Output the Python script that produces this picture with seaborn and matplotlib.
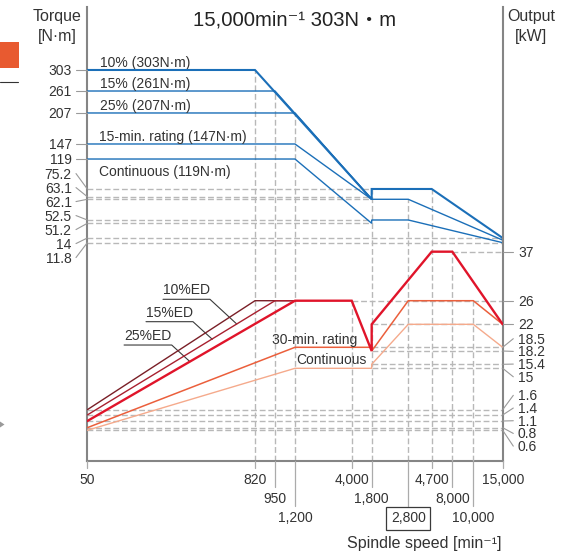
import numpy as np
import matplotlib
matplotlib.use("Agg")
import matplotlib.pyplot as plt
from matplotlib.lines import Line2D
from matplotlib.patches import Rectangle, Polygon
from matplotlib.transforms import IdentityTransform
import seaborn as sns

# ---------------- data ----------------
# speed ticks in the order they appear along the (schematic) speed axis
speed_ticks = [50, 820, 950, 1200, 4000, 1800, 2800, 4700, 8000, 10000, 15000]
boxed_speed = 2800
torque_ticks = [303, 261, 207, 147, 119, 75.2, 63.1, 62.1, 52.5, 51.2, 14, 11.8]
output_ticks = [37, 26, 22, 18.5, 18.2, 15.4, 15, 1.6, 1.4, 1.1, 0.8, 0.6]

# torque curves [N·m]
trq10_speed = [50, 820, 1800, 1800, 4700, 15000]
trq10_value = [303, 303, 62.1, 75.2, 75.2, 14]
trq15_speed = [50, 950, 1800]
trq15_value = [261, 261, 62.1]
trq25_speed = [50, 1200, 1800]
trq25_value = [207, 207, 62.1]
trq15min_speed = [50, 1200, 1800, 2800, 15000]
trq15min_value = [147, 147, 62.1, 62.1, 13]
trqcont_speed = [50, 1200, 1800, 1800, 2800, 15000]
trqcont_value = [119, 119, 51.2, 52.5, 52.5, 11.8]

# output curves [kW]
out10_speed = [50, 820, 1200]
out10_value = [1.6, 26, 26]
out15_speed = [50, 950, 1200]
out15_value = [1.4, 26, 26]
out25_speed = [50, 1200, 4000, 1800, 1800, 4700, 8000, 15000]
out25_value = [1.1, 26, 26, 18.2, 22, 37, 37, 22]
out30_speed = [50, 1200, 1800, 1800, 2800, 10000, 15000]
out30_value = [0.8, 18.5, 18.5, 18.2, 26, 26, 22]
outcont_speed = [50, 1200, 1800, 1800, 2800, 10000, 15000]
outcont_value = [0.6, 15, 15, 15.4, 22, 22, 18.5]

# guide lines
trq_guide_level = [75.2, 63.1, 62.1, 52.5, 51.2, 14, 11.8]
trq_guide_end = [1800, 1800, 1800, 1800, 1800, 15000, 15000]
out_guide_level = [37, 26, 22, 18.5, 18.2, 15.4, 15, 1.6, 1.4, 1.1, 0.8, 0.6]
out_guide_start = [8000, 4000, 1800, 1800, 1800, 1800, 1800, 50, 50, 50, 50, 50]
trq_vguide_speed = [820, 950, 1200, 1800, 2800, 4700]
trq_vguide_top = [303, 261, 207, 75.2, 62.1, 75.2]
out_vguide_speed = [4000, 8000, 10000]
out_vguide_top = [26, 37, 26]

# ---------------- style ----------------
sns.set_theme(style="white")
plt.rcParams["font.family"] = ["Liberation Sans", "Noto Sans CJK JP", "DejaVu Sans"]
TXT = "#333333"
BLUE = "#1b6fb8"
C10, C15, C25 = "#7a1f27", "#a8202f", "#e0142a"
C30, CCONT = "#eb5f3c", "#f5aa8c"
GUIDE = "#b8b8b8"
SPINE = "#858585"
DASH = (0, (4.2, 2.0))

W, H = 572, 552
L, R, T, B = 87.3, 502.7, 6.7, 460.7
fig = plt.figure(figsize=(W / 100, H / 100), dpi=100)
ax = fig.add_axes([L / W, 1 - B / H, (R - L) / W, (B - T) / H])

# schematic axes: each tick value sits on its own slot
speed_slot = [0, .4037, .4518, .5, .6365, .6846, .7727, .8291, .8787, .9292, 1.0]
_sp = np.array(speed_ticks, float)
_order = np.argsort(_sp)
_sp_sorted, _slot_by_speed = _sp[_order], np.array(speed_slot)[_order]
_slot_order = np.argsort(speed_slot)


def speed_fwd(v):
    return np.interp(v, _sp_sorted, _slot_by_speed)


def speed_inv(f):
    return np.interp(f, np.array(speed_slot)[_slot_order], _sp[_slot_order])


def knot_scale(values, fracs):
    v, f = np.array(values, float), np.array(fracs, float)
    return (lambda x: np.interp(x, v, f)), (lambda y: np.interp(y, f, v))


trq_fwd, trq_inv = knot_scale(
    [0, 11.8, 14, 51.2, 52.5, 62.1, 63.1, 75.2, 119, 147, 207, 261, 303, 430],
    [0, .4802, .4905, .5229, .5302, .5758, .5815, .5985, .6645, .6976, .7659, .8143, .8606, 1])
out_fwd, out_inv = knot_scale(
    [0, 0.6, 0.8, 1.1, 1.4, 1.6, 15, 15.4, 18.2, 18.5, 22, 26, 37, 100],
    [0, .0670, .0727, .0874, .1007, .1123, .2035, .2123, .2416, .2498, .3004, .3524, .4604, 1])

ax.set_xscale("function", functions=(speed_fwd, speed_inv))
ax.set_yscale("function", functions=(trq_fwd, trq_inv))
ax2 = ax.twinx()
ax2.set_yscale("function", functions=(out_fwd, out_inv))


def set_limits():
    ax.set_xlim(50, 15000)
    ax.set_ylim(0, 430)
    ax2.set_ylim(0, 100)


set_limits()

# guides
for lv, end in zip(trq_guide_level, trq_guide_end):
    ax.hlines(lv, 50, end, colors=GUIDE, linestyles=DASH, lw=1.0, zorder=1)
for lv, st in zip(out_guide_level, out_guide_start):
    ax2.hlines(lv, st, 15000, colors=GUIDE, linestyles=DASH, lw=1.0, zorder=1)
for sx, top in zip(trq_vguide_speed, trq_vguide_top):
    ax.vlines(sx, 0, top, colors=GUIDE, linestyles=DASH, lw=1.0, zorder=1)
for sx, top in zip(out_vguide_speed, out_vguide_top):
    ax2.vlines(sx, 0, top, colors=GUIDE, linestyles=DASH, lw=1.0, zorder=1)


def curve(axis, xs, ys, color, lw, z=3):
    sns.lineplot(x=xs, y=ys, ax=axis, sort=False, estimator=None, errorbar=None,
                 color=color, linewidth=lw, zorder=z, solid_joinstyle="miter")


# torque
curve(ax, trqcont_speed, trqcont_value, BLUE, 1.0)
curve(ax, trq15min_speed, trq15min_value, BLUE, 1.0)
curve(ax, trq25_speed, trq25_value, BLUE, 1.0)
curve(ax, trq15_speed, trq15_value, BLUE, 1.0)
curve(ax, trq10_speed, trq10_value, BLUE, 1.5, 4)
# output
curve(ax2, outcont_speed, outcont_value, CCONT, 1.0)
curve(ax2, out30_speed, out30_value, C30, 1.1)
curve(ax2, out10_speed, out10_value, C10, 1.0)
curve(ax2, out15_speed, out15_value, C15, 1.0)
curve(ax2, out25_speed, out25_value, C25, 1.7, 4)

set_limits()
for a in (ax, ax2):
    a.set_xlabel("")
    a.set_ylabel("")
    a.set_xticks([])
    a.set_yticks([])
    a.grid(False)
    for s in a.spines.values():
        s.set_visible(False)
ax.spines["left"].set_visible(True)
ax.spines["bottom"].set_visible(True)
ax2.spines["right"].set_visible(True)
for s in (ax.spines["left"], ax.spines["bottom"], ax2.spines["right"]):
    s.set_color(SPINE)
    s.set_linewidth(1.5)

# ---------------- staggered tick labels with leaders ----------------
ID = IdentityTransform()
FS = 10


def spread(levels, gap):
    clusters = [[i] for i in range(len(levels))]

    def place(cl):
        c = np.mean([levels[i] for i in cl])
        n = len(cl)
        return [c + gap * ((n - 1) / 2 - k) for k in range(n)]

    merged = True
    while merged:
        merged = False
        for j in range(len(clusters) - 1):
            if place(clusters[j])[-1] - place(clusters[j + 1])[0] < gap - 1e-6:
                clusters[j] = clusters[j] + clusters.pop(j + 1)
                merged = True
                break
    out = []
    for cl in clusters:
        out += place(cl)
    return out


def label_text(v):
    return f"{v:g}"


x_left = ax.transAxes.transform((0, 0))[0]
x_right = ax.transAxes.transform((1, 0))[0]
y_bottom = ax.transAxes.transform((0, 0))[1]

lv_left = [ax.transData.transform((50, v))[1] for v in torque_ticks]
for v, lv, ly in zip(torque_ticks, lv_left, spread(lv_left, 14.0)):
    fig.add_artist(Line2D([x_left, x_left - 11.3], [lv, ly], color="#9a9a9a", lw=0.8, transform=ID))
    fig.text(x_left - 15.5, ly - 5.0, label_text(v), ha="right", va="baseline",
             fontsize=FS, color=TXT, transform=ID)

lv_right = [ax2.transData.transform((50, v))[1] for v in output_ticks]
for v, lv, ly in zip(output_ticks, lv_right, spread(lv_right, 12.7)):
    fig.add_artist(Line2D([x_right, x_right + 10.6], [lv, ly], color="#9a9a9a", lw=0.8, transform=ID))
    fig.text(x_right + 15.3, ly - 5.0, label_text(v), ha="left", va="baseline",
             fontsize=FS, color=TXT, transform=ID)

# speed labels in three staggered rows
row_gap = 19.0
for i, sp in enumerate(speed_ticks):
    row = max(i - 1, 0) % 3
    xd = ax.transData.transform((sp, 0))[0]
    yc = y_bottom - 18.6 - row * row_gap
    fig.add_artist(Line2D([xd, xd], [y_bottom, yc + 11.0], color="#ababab", lw=0.9, transform=ID))
    kw = {}
    if sp == boxed_speed:
        kw["bbox"] = dict(boxstyle="square,pad=0.32", fc="white", ec="#3a3a3a", lw=0.9)
    fig.text(xd, yc - 5.0, f"{sp:,}", ha="center", va="baseline", fontsize=FS,
             color=TXT, transform=ID, **kw)


def ptext(x, y_top, s, **kw):
    kw.setdefault("color", TXT)
    return fig.text(x, H - y_top, s, transform=ID, **kw)


# axis titles
ptext(57.5, 21, "Torque", ha="center", va="baseline", fontsize=11.5)
ptext(57.5, 41, "[N·m]", ha="center", va="baseline", fontsize=11.5)
ptext(531, 21, "Output", ha="center", va="baseline", fontsize=11.5)
ptext(531, 41, "[kW]", ha="center", va="baseline", fontsize=11.5)
ptext(295, 25, "15,000min⁻¹ 303N・m", ha="center", va="baseline", fontsize=14.6, color="#222222")
ptext(424, 548, "Spindle speed [min⁻¹]", ha="center", va="baseline", fontsize=11.5)

# torque curve names
FS_IN = 10
ax.annotate("10% (303N·m)", xy=(50, 303), xytext=(9, 2.4), textcoords="offset points",
            ha="left", va="baseline", fontsize=FS_IN, color=TXT)
ax.annotate("15% (261N·m)", xy=(50, 261), xytext=(9, 2.0), textcoords="offset points",
            ha="left", va="baseline", fontsize=FS_IN, color=TXT)
ax.annotate("25% (207N·m)", xy=(50, 207), xytext=(9, 2.2), textcoords="offset points",
            ha="left", va="baseline", fontsize=FS_IN, color=TXT)
ax.annotate("15-min. rating (147N·m)", xy=(50, 147), xytext=(8.5, 2.4), textcoords="offset points",
            ha="left", va="baseline", fontsize=FS_IN, color=TXT)
ax.annotate("Continuous (119N·m)", xy=(50, 119), xytext=(8.3, -12.2), textcoords="offset points",
            ha="left", va="baseline", fontsize=FS_IN, color=TXT)

# output curve names
ax2.annotate("30-min. rating", xy=(1800, 18.5), xytext=(-10.5, 2.3), textcoords="offset points",
             ha="right", va="baseline", fontsize=FS_IN, color=TXT)
ax2.annotate("Continuous", xy=(1800, 15), xytext=(-3.4, 3.0), textcoords="offset points",
             ha="right", va="baseline", fontsize=FS_IN, color=TXT)

# duty-cycle labels with underline and leader
ed_labels = ["10%ED", "15%ED", "25%ED"]
ed_underline = [(.1822, .2953, .3555), (.1413, .2544, .3062), (.0885, .2032, .2548)]
ed_tip = [(.3597, .3011), (.3009, .2674), (.2472, .2181)]
for s, (x0, x1, yu), (xt, yt) in zip(ed_labels, ed_underline, ed_tip):
    ax.plot([x0, x1, xt], [yu, yu, yt], transform=ax.transAxes, color="#3a3a3a",
            lw=0.8, clip_on=False, zorder=5)
    ax.text(x0, yu + 0.011, s, transform=ax.transAxes, ha="left", va="baseline",
            fontsize=FS_IN, color=TXT)

# page-edge marks
fig.add_artist(Rectangle((0, H - 67.7), 19, 26, transform=ID, color="#e85a30", lw=0))
fig.add_artist(Line2D([0, 18.3], [H - 81.7, H - 81.7], color="#333333", lw=0.8, transform=ID))
fig.add_artist(Polygon([(0, H - 421.5), (4.5, H - 424.5), (0, H - 427.5)], closed=True,
                       transform=ID, color="#9a9a9a", lw=0))

fig.savefig("out.png", dpi=100)
